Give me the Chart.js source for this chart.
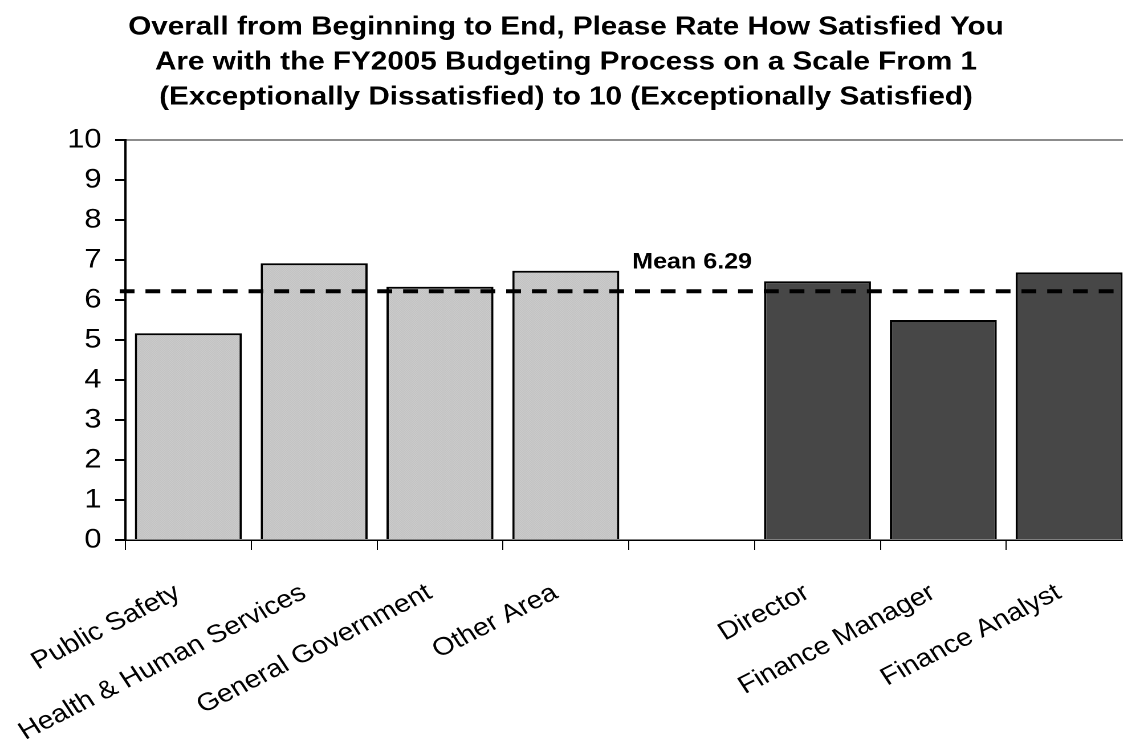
<!DOCTYPE html>
<html>
<head>
<meta charset="utf-8">
<script src="https://cdn.jsdelivr.net/npm/chart.js@4.4.1/dist/chart.umd.min.js"></script>
<style>
  html, body { margin: 0; padding: 0; background: #fff; overflow: hidden; }
  /* the original picture is stretched sideways, so the chart is drawn narrow and widened */
  #wrap { width: 996px; height: 756px; transform: scaleX(1.14); transform-origin: 0 0; }
</style>
</head>
<body>
<div id="wrap"><canvas id="satChart" width="996" height="756"></canvas></div>
<script>
const categories = ['Public Safety', 'Health & Human Services', 'General Government', 'Other Area', '', 'Director', 'Finance Manager', 'Finance Analyst']
const areaScores = [5.17, 6.92, 6.33, 6.73, null, null, null, null]
const roleScores = [null, null, null, null, null, 6.47, 5.50, 6.69]
const yTicks = [0, 1, 2, 3, 4, 5, 6, 7, 8, 9, 10]
const meanScore = 6.29
const meanLineAt = 6.22
const titleLines = [
    'Overall from Beginning to End, Please Rate How Satisfied You',
    'Are with the FY2005 Budgeting Process on a Scale From 1',
    '(Exceptionally Dissatisfied) to 10 (Exceptionally Satisfied)'
]

const FONT = "'Liberation Sans', Arial, sans-serif"

// fine checker texture of the light bars
function lightPattern() {
    const c = document.createElement('canvas')
    c.width = 2
    c.height = 2
    const g = c.getContext('2d')
    g.fillStyle = '#d6d6d6'
    g.fillRect(0, 0, 2, 2)
    g.fillStyle = '#b8b8b8'
    g.fillRect(0, 0, 1, 1)
    g.fillRect(1, 1, 1, 1)
    return g.createPattern(c, 'repeat')
}

const meanLine = {
    id: 'meanLine',
    afterDatasetsDraw(chart) {
        const { ctx, chartArea, scales } = chart
        const y = scales.y.getPixelForValue(meanLineAt)
        ctx.save()
        ctx.strokeStyle = '#000'
        ctx.lineWidth = 4
        ctx.setLineDash([13, 9.6])
        ctx.beginPath()
        ctx.moveTo(chartArea.left - 5, y)
        ctx.lineTo(chartArea.right + 5, y)
        ctx.stroke()
        ctx.setLineDash([])
        // label sits in the empty slot between the two groups
        const slot = scales.x.getPixelForValue(4) - (scales.x.getPixelForValue(1) - scales.x.getPixelForValue(0)) / 2
        ctx.fillStyle = '#000'
        ctx.font = 'bold 22px ' + FONT
        ctx.textBaseline = 'alphabetic'
        ctx.textAlign = 'left'
        ctx.fillText('Mean ' + meanScore.toFixed(2), slot + 3, scales.y.getPixelForValue(meanScore) - 20)
        ctx.restore()
    }
}

const ctx = document.getElementById('satChart')
const satChart = new Chart(ctx, {
    type: 'bar',
    data: {
        labels: categories,
        datasets: [
            {
                label: 'By area',
                data: areaScores,
                backgroundColor: lightPattern(),
                borderColor: '#000',
                borderWidth: 2,
                grouped: false,
                barPercentage: 0.85,
                categoryPercentage: 1
            },
            {
                label: 'By role',
                data: roleScores,
                backgroundColor: '#474747',
                borderColor: '#000',
                borderWidth: 2,
                grouped: false,
                barPercentage: 0.85,
                categoryPercentage: 1
            }
        ]
    },
    options: {
        responsive: false,
        animation: false,
        devicePixelRatio: 2,
        layout: { padding: { right: 3 } },
        plugins: {
            legend: { display: false },
            tooltip: { enabled: false },
            title: {
                display: true,
                text: titleLines,
                color: '#000',
                font: { family: FONT, size: 26, weight: 'bold', lineHeight: 1.346 },
                padding: { top: 10, bottom: 25 }
            }
        },
        scales: {
            x: {
                afterFit: (scale) => { scale.height = 216 },
                border: { color: '#000', width: 1.5 },
                grid: {
                    offset: true,
                    drawOnChartArea: false,
                    tickLength: 10,
                    tickColor: '#000'
                },
                ticks: {
                    autoSkip: false,
                    minRotation: 30,
                    maxRotation: 30,
                    labelOffset: -9,
                    padding: 28,
                    color: '#000',
                    font: { family: FONT, size: 25 }
                }
            },
            y: {
                min: 0,
                max: 10,
                afterFit: (scale) => { scale.width = 110 },
                afterBuildTicks: (scale) => { scale.ticks = yTicks.map(v => ({ value: v })) },
                border: { color: '#000', width: 2 },
                grid: {
                    color: (c) => c.tick && c.tick.value === 10 ? '#8c8c8c' : 'rgba(0,0,0,0)',
                    lineWidth: 2,
                    tickLength: 9,
                    tickColor: '#000'
                },
                ticks: {
                    padding: 12,
                    color: '#000',
                    font: { family: FONT, size: 27 }
                }
            }
        }
    },
    plugins: [meanLine]
})
</script>
</body>
</html>
